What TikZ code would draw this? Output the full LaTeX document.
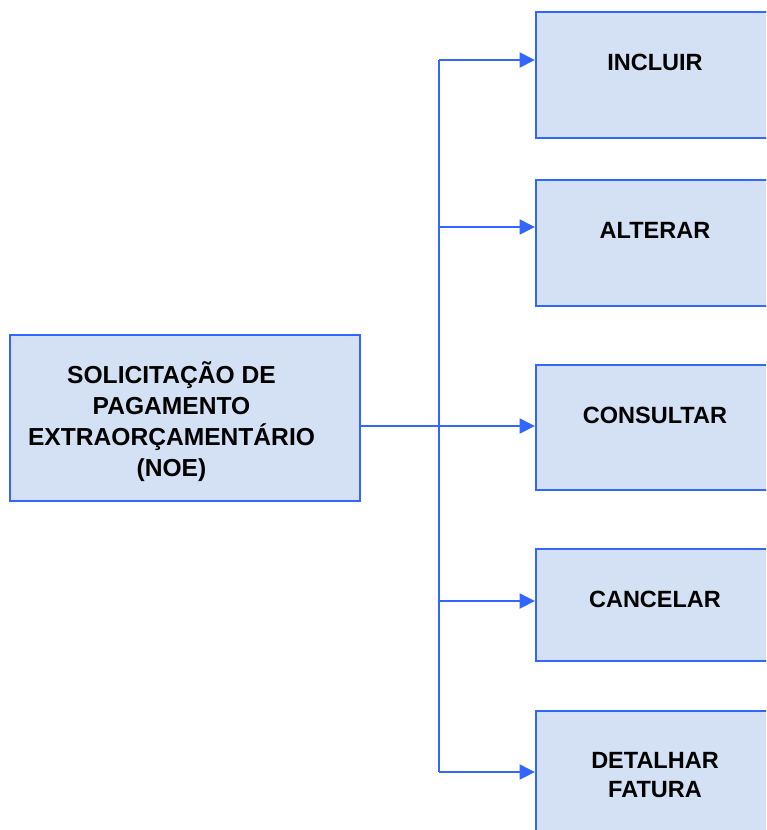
\documentclass[tikz,border=0pt]{standalone}
\usepackage{fontspec}
\setmainfont{Liberation Sans}
\usetikzlibrary{arrows.meta}
\definecolor{boxfill}{HTML}{D4E0F3}
\definecolor{linecol}{HTML}{3366FF}
\tikzset{
  box/.style={draw=linecol, line width=2pt, fill=boxfill, inner sep=0pt, anchor=north west},
  lbl/.style={font=\fontsize{23.5}{30}\selectfont\bfseries, align=center, anchor=base, inner sep=0pt},
  conn/.style={draw=linecol, line width=2pt},
  arr/.style={conn, -{Triangle[length=15.5pt,width=15pt]}}
}
\begin{document}
\begin{tikzpicture}[x=1pt,y=-1pt]
\useasboundingbox (0,0) rectangle (766,830);
\clip (0,0) rectangle (766,830);
% boxes
\node[box, minimum width=350.5pt, minimum height=166pt] (L) at (8.5,334) {};
\node[box, minimum width=240pt, minimum height=125.5pt] (b1) at (535,11) {};
\node[box, minimum width=240pt, minimum height=126pt] (b2) at (535,179) {};
\node[box, minimum width=240pt, minimum height=125pt] (b3) at (535,364) {};
\node[box, minimum width=240pt, minimum height=112pt] (b4) at (535,548) {};
\node[box, minimum width=240pt, minimum height=125pt] (b5) at (535,710) {};
% texts (anchor base = last line's baseline)
\node[lbl, font=\fontsize{24.6}{31}\selectfont\bfseries] (tL) at (171.5,476.5) {SOLICITAÇÃO DE\\PAGAMENTO\\EXTRAORÇAMENTÁRIO\\(NOE)};
\node[lbl] (t1) at (655,70.5) {INCLUIR};
\node[lbl] (t2) at (655,238) {ALTERAR};
\node[lbl] (t3) at (655,423) {CONSULTAR};
\node[lbl] (t4) at (655,607) {CANCELAR};
\node[lbl, font=\fontsize{23.5}{29}\selectfont\bfseries] (t5) at (655,797) {DETALHAR\\FATURA};
% connectors
\coordinate (j1) at (439,60);
\coordinate (j2) at (439,227);
\coordinate (j3) at (439,426);
\coordinate (j4) at (439,601);
\coordinate (j5) at (439,772);
\draw[conn] (j1) -- (j5);
\draw[conn] (L.east |- j3) -- (j3);
\draw[arr] (j1) -- (j1 -| b1.west);
\draw[arr] (j2) -- (j2 -| b2.west);
\draw[arr] (j3) -- (j3 -| b3.west);
\draw[arr] (j4) -- (j4 -| b4.west);
\draw[arr] (j5) -- (j5 -| b5.west);
\end{tikzpicture}
\end{document}
